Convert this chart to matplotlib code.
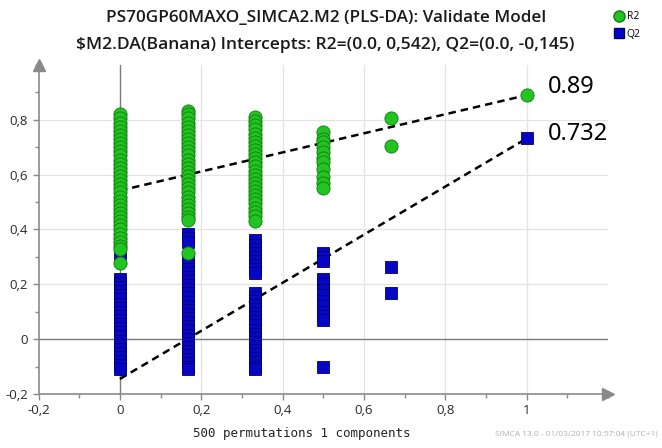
import matplotlib
matplotlib.use("Agg")
import matplotlib.pyplot as plt
from matplotlib.lines import Line2D
from matplotlib.ticker import MultipleLocator, FuncFormatter

# ---------------- data ----------------
corr_x = [0.0, 0.167, 0.333, 0.5, 0.667, 1.0]

r2_col0 = [0.82, 0.805, 0.79, 0.775, 0.76, 0.745, 0.73, 0.715, 0.70, 0.685, 0.67,
           0.655, 0.64, 0.625, 0.61, 0.595, 0.58, 0.565, 0.55, 0.535, 0.52, 0.505,
           0.49, 0.475, 0.46, 0.445, 0.43, 0.415, 0.40, 0.385, 0.37, 0.355, 0.34,
           0.33, 0.277]
r2_col1 = [0.833, 0.82, 0.805, 0.79, 0.775, 0.76, 0.745, 0.73, 0.715, 0.70, 0.685,
           0.67, 0.655, 0.64, 0.625, 0.61, 0.595, 0.58, 0.565, 0.55, 0.535, 0.52,
           0.505, 0.49, 0.475, 0.46, 0.445, 0.435, 0.315]
r2_col2 = [0.81, 0.795, 0.78, 0.765, 0.75, 0.735, 0.72, 0.705, 0.69, 0.675, 0.66,
           0.645, 0.63, 0.615, 0.60, 0.585, 0.57, 0.555, 0.54, 0.525, 0.51, 0.495,
           0.48, 0.465, 0.45, 0.43]
r2_col3 = [0.755, 0.73, 0.718, 0.70, 0.681, 0.66, 0.645, 0.62, 0.593, 0.57, 0.553]
r2_col4 = [0.808, 0.704]
r2_col5 = [0.89]
r2_values = [r2_col0, r2_col1, r2_col2, r2_col3, r2_col4, r2_col5]

q2_col0 = [0.31, 0.22, 0.205, 0.19, 0.175, 0.16, 0.145, 0.13, 0.115, 0.10, 0.085,
           0.07, 0.055, 0.04, 0.025, 0.01, -0.005, -0.02, -0.035, -0.05, -0.065,
           -0.08, -0.095, -0.11]
q2_col1 = [0.383, 0.368, 0.353, 0.287, 0.272, 0.257, 0.242, 0.227, 0.212, 0.197,
           0.182, 0.167, 0.152, 0.137, 0.122, 0.107, 0.092, 0.077, 0.062, 0.047,
           0.032, 0.017, 0.002, -0.013, -0.028, -0.043, -0.058, -0.073, -0.088,
           -0.103, -0.11]
q2_col2 = [0.36, 0.345, 0.33, 0.315, 0.30, 0.285, 0.27, 0.255, 0.24, 0.17, 0.155,
           0.14, 0.125, 0.11, 0.095, 0.08, 0.065, 0.05, 0.035, 0.02, 0.005, -0.01,
           -0.025, -0.04, -0.055, -0.07, -0.085, -0.10, -0.11]
q2_col3 = [0.315, 0.30, 0.284, 0.218, 0.20, 0.18, 0.16, 0.14, 0.12, 0.10, 0.085,
           0.071, -0.10]
q2_col4 = [0.265, 0.167]
q2_col5 = [0.732]
q2_values = [q2_col0, q2_col1, q2_col2, q2_col3, q2_col4, q2_col5]

r2_intercept = 0.542
q2_intercept = -0.145
r2_original = 0.89
q2_original = 0.732

title_line1 = "PS70GP60MAXO_SIMCA2.M2 (PLS-DA): Validate Model"
title_line2 = "$M2.DA(Banana) Intercepts: R2=(0.0, 0,542), Q2=(0.0, -0,145)"
x_label = "500 permutations 1 components"
footer = "SIMCA 13.0 - 01/03/2017 10:57:04 (UTC+1)"

# ---------------- style ----------------
GREEN = "#22c422"
GREEN_EDGE = "#137a13"
BLUE = "#0606c4"
BLUE_EDGE = "#000070"
AXIS_GREY = "#8a8a8a"

fig = plt.figure(figsize=(6.62, 4.48), dpi=100)
ax = fig.add_axes([38.6 / 662, 1 - 394 / 448, (608 - 38.6) / 662, (394 - 65) / 448])

ax.set_xlim(-0.2, 1.2)
ax.set_ylim(-0.2, 1.0)

for s in ["top", "right"]:
    ax.spines[s].set_visible(False)
for s in ["left", "bottom"]:
    ax.spines[s].set_color(AXIS_GREY)
    ax.spines[s].set_linewidth(1.2)

# grid
for gx in [0.2, 0.4, 0.6, 0.8, 1.0]:
    ax.axvline(gx, color="#e3e3e3", lw=0.9, zorder=0)
for gy in [0.2, 0.4, 0.6, 0.8]:
    ax.axhline(gy, color="#e3e3e3", lw=0.9, zorder=0)
ax.axvline(0, color="#7a7a7a", lw=1.0, zorder=1)
ax.axhline(0, color="#7a7a7a", lw=1.0, zorder=1)

# arrows on axes
ax.plot([1.0], [0.0], marker=">", markersize=9, color=AXIS_GREY,
        transform=ax.transAxes, clip_on=False, zorder=3)
ax.plot([0.0], [1.0], marker="^", markersize=9, color=AXIS_GREY,
        transform=ax.transAxes, clip_on=False, zorder=3)

# ticks
ax.xaxis.set_minor_locator(MultipleLocator(0.1))
ax.yaxis.set_minor_locator(MultipleLocator(0.1))
ax.set_xticks([-0.2, 0, 0.2, 0.4, 0.6, 0.8, 1.0])
ax.set_yticks([-0.2, 0, 0.2, 0.4, 0.6, 0.8])


def fmt(v, pos):
    if abs(v) < 1e-9:
        return "0"
    s = ("%.1f" % v).replace(".", ",")
    if s.endswith(",0"):
        s = s[:-2]
    return s


ax.xaxis.set_major_formatter(FuncFormatter(fmt))
ax.yaxis.set_major_formatter(FuncFormatter(fmt))
ax.tick_params(which="both", colors=AXIS_GREY, labelcolor="#2a2a2a",
               labelsize=9.5, direction="out")
ax.tick_params(which="major", length=4, width=1)
ax.tick_params(which="minor", length=3, width=1)
for lab in ax.get_xticklabels() + ax.get_yticklabels():
    lab.set_fontfamily("Open Sans")

# regression lines
ax.plot([0, 1], [r2_intercept, r2_original], color="black", lw=1.8,
        dashes=(3, 2), zorder=2)
ax.plot([0, 1], [q2_intercept, q2_original], color="black", lw=1.8,
        dashes=(3, 2), zorder=2)

# points
for xv, vals in zip(corr_x, q2_values):
    ax.plot([xv] * len(vals), vals, linestyle="none", marker="s", markersize=9,
            markerfacecolor=BLUE, markeredgecolor=BLUE_EDGE, markeredgewidth=0.6,
            zorder=4)
for xv, vals in zip(corr_x, r2_values):
    ax.plot([xv] * len(vals), vals, linestyle="none", marker="o", markersize=9.5,
            markerfacecolor=GREEN, markeredgecolor=GREEN_EDGE, markeredgewidth=0.6,
            zorder=5)

# annotations of original values
ax.annotate("0.89", xy=(corr_x[-1], r2_original), xytext=(15, 6),
            textcoords="offset points", fontsize=17, family="Noto Sans",
            va="center", ha="left", color="black", annotation_clip=False)
ax.annotate("0.732", xy=(corr_x[-1], q2_original), xytext=(15, 3),
            textcoords="offset points", fontsize=17, family="Noto Sans",
            va="center", ha="left", color="black", annotation_clip=False)

# titles
fig.text(326 / 662, 1 - 18 / 448, title_line1, ha="center", va="center",
         fontsize=12.3, fontweight="semibold", family="Open Sans", color="#1a1a1a")
fig.text(325 / 662, 1 - 45 / 448, title_line2, ha="center", va="center",
         fontsize=12.6, fontweight="semibold", family="Open Sans", color="#1a1a1a")

# x label
fig.text(302 / 662, 1 - 433 / 448, x_label, ha="center", va="center",
         fontsize=9, family="DejaVu Sans Mono", color="#222222")

# footer
fig.text(658 / 662, 1 - 434 / 448, footer, ha="right", va="center",
         fontsize=6, family="Open Sans", color="#b0b0b0")

# legend
handles = [Line2D([], [], linestyle="none", marker="o", markersize=8,
                  markerfacecolor=GREEN, markeredgecolor=GREEN_EDGE),
           Line2D([], [], linestyle="none", marker="s", markersize=7.5,
                  markerfacecolor=BLUE, markeredgecolor=BLUE_EDGE)]
fig.legend(handles, ["R2", "Q2"], loc="upper left",
           bbox_to_anchor=(606 / 662, 1 - 4 / 448), frameon=False,
           prop={"family": "Open Sans", "size": 7.5}, handlelength=1.0,
           handletextpad=0.3, labelspacing=0.6, borderpad=0.2)

fig.savefig("out.png", dpi=100)
